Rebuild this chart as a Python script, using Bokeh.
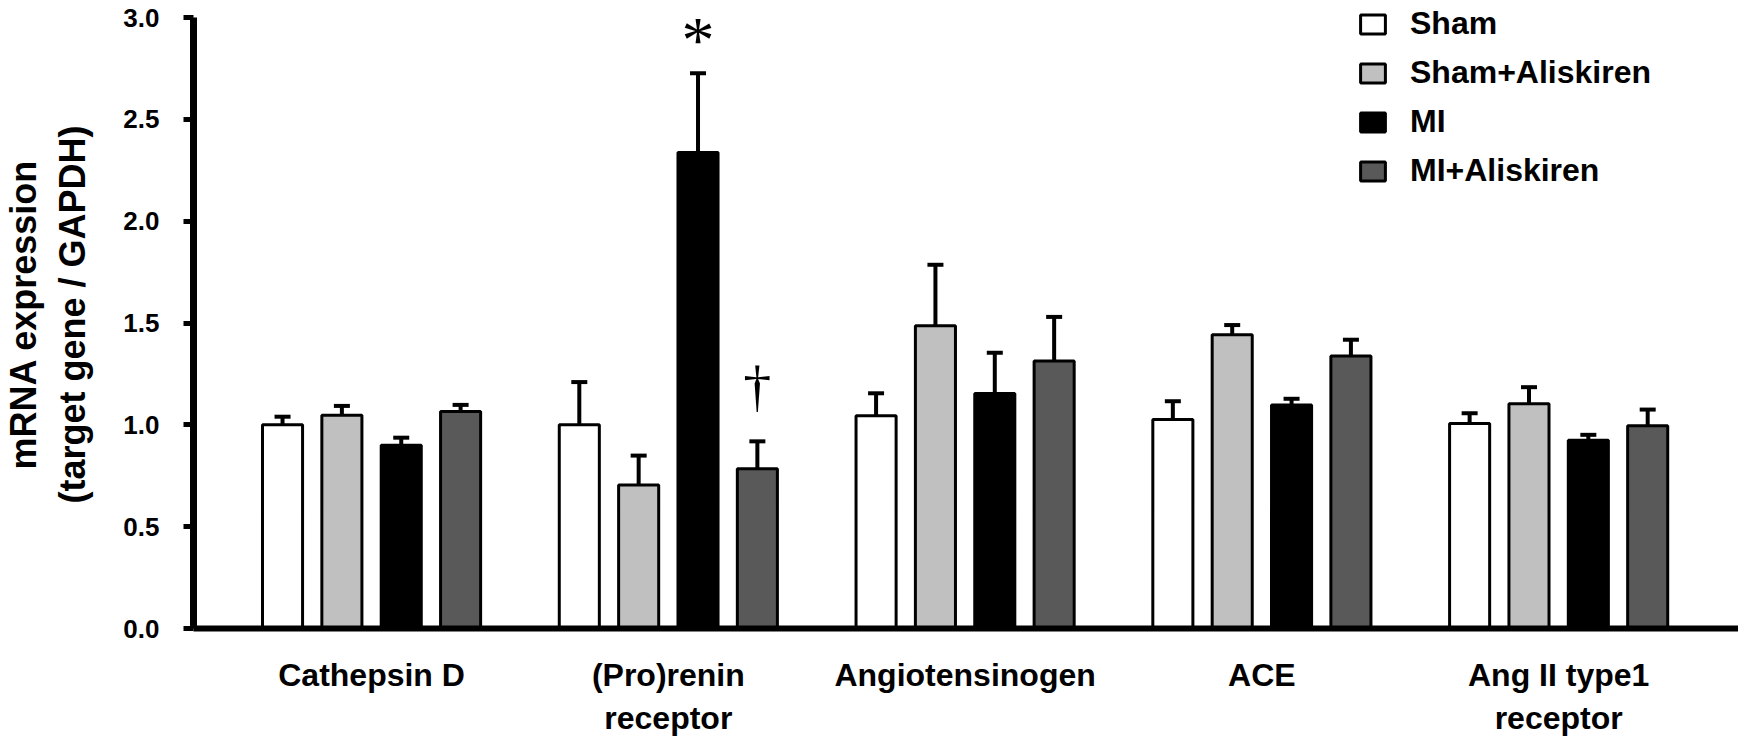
from bokeh.plotting import figure
from bokeh.models import (ColumnDataSource, Whisker, TeeHead, Legend, LegendItem,
                          FixedTicker, Range1d, PrintfTickFormatter, Label)
from bokeh.embed import file_html
from bokeh.resources import INLINE

# ---------------- data ----------------
categories = ["Cathepsin D", "(Pro)renin\nreceptor", "Angiotensinogen", "ACE", "Ang II type1\nreceptor"]
series_names = ["Sham", "Sham+Aliskiren", "MI", "MI+Aliskiren"]

sham = [1.00, 1.00, 1.045, 1.026, 1.007]
sham_err = [0.04, 0.21, 0.11, 0.09, 0.05]
sham_ali = [1.047, 0.705, 1.486, 1.442, 1.103]
sham_ali_err = [0.046, 0.144, 0.30, 0.048, 0.082]
mi = [0.90, 2.337, 1.154, 1.098, 0.924]
mi_err = [0.037, 0.39, 0.20, 0.03, 0.027]
mi_ali = [1.065, 0.784, 1.314, 1.338, 0.995]
mi_ali_err = [0.033, 0.135, 0.216, 0.08, 0.08]

y_ticks = [0.0, 0.5, 1.0, 1.5, 2.0, 2.5, 3.0]
y_axis_max = 3.0

# significance marks: symbol, category index, series index, y position
marks_symbol = ["*", "\u2020"]
marks_cat = [1, 1]
marks_series = [2, 3]
marks_y = [2.89, 1.19]

# ---------------- styling ----------------
colors = ["#ffffff", "#c0c0c0", "#000000", "#595959"]
offsets = [-0.3, -0.1, 0.1, 0.3]
bar_width = 0.135
mark_sizes = ["66px", "56px"]
FONT = "Liberation Sans"

p = figure(width=1738, height=740,
           x_range=Range1d(-0.6, 4.606), y_range=Range1d(0, 3.0837),
           output_backend="svg", toolbar_location=None,
           min_border_left=192, min_border_right=0,
           min_border_top=0, min_border_bottom=112)
p.xgrid.visible = False
p.ygrid.visible = False
p.outline_line_color = None
p.background_fill_color = "white"

all_vals = [sham, sham_ali, mi, mi_ali]
all_errs = [sham_err, sham_ali_err, mi_err, mi_ali_err]
renderers = []
for k in range(4):
    xs = [i + offsets[k] for i in range(len(categories))]
    src = ColumnDataSource(dict(x=xs, top=all_vals[k],
                                upper=[v + e for v, e in zip(all_vals[k], all_errs[k])]))
    r = p.vbar(x="x", top="top", bottom=0, width=bar_width, source=src,
               fill_color=colors[k], line_color="black", line_width=3)
    renderers.append(r)
    w = Whisker(source=src, base="x", lower="top", upper="upper",
                line_width=4, line_color="black",
                upper_head=TeeHead(size=16, line_width=4, line_color="black"),
                lower_head=None, level="glyph")
    p.add_layout(w)

for i in range(len(marks_symbol)):
    p.add_layout(Label(x=marks_cat[i] + offsets[marks_series[i]], y=marks_y[i],
                       x_units="data", y_units="data", text=marks_symbol[i],
                       text_font="Liberation Serif", text_font_size=mark_sizes[i],
                       text_align="center", text_baseline="middle", text_color="black"))

# ---------------- axes ----------------
ya = p.yaxis[0]
ya.ticker = FixedTicker(ticks=y_ticks)
ya.bounds = (0, y_axis_max)
ya.formatter = PrintfTickFormatter(format="%.1f")
ya.axis_line_width = 7
ya.major_tick_line_width = 5
ya.major_tick_out = 10
ya.major_tick_in = 0
ya.minor_tick_out = 0
ya.minor_tick_in = 0
ya.major_label_text_font = FONT
ya.major_label_text_font_style = "bold"
ya.major_label_text_font_size = "26px"
ya.major_label_text_color = "black"
ya.major_label_standoff = 24
ya.axis_label = "mRNA expression\n(target gene / GAPDH)"
ya.axis_label_text_font = FONT
ya.axis_label_text_font_style = "bold"
ya.axis_label_text_font_size = "36px"
ya.axis_label_text_color = "black"
ya.axis_label_standoff = 27
ya.axis_label_text_line_height = 1.2

xa = p.xaxis[0]
xa.ticker = FixedTicker(ticks=list(range(len(categories))))
xa.major_label_overrides = {i: c for i, c in enumerate(categories)}
xa.axis_line_width = 6
xa.major_tick_out = 0
xa.major_tick_in = 0
xa.minor_tick_out = 0
xa.minor_tick_in = 0
xa.major_label_text_font = FONT
xa.major_label_text_font_style = "bold"
xa.major_label_text_font_size = "32px"
xa.major_label_text_color = "black"
xa.major_label_standoff = 28
xa.major_label_text_line_height = 1.2

# ---------------- legend ----------------
legend = Legend(items=[LegendItem(label=series_names[k], renderers=[renderers[k]]) for k in range(4)],
                location=(1164, 439), orientation="vertical",
                glyph_width=31, glyph_height=24, label_height=24,
                label_standoff=22, spacing=12, padding=0, margin=0,
                border_line_color=None, background_fill_alpha=0,
                label_text_font=FONT, label_text_font_style="bold",
                label_text_font_size="32px", label_text_color="black")
p.add_layout(legend)

open("out.html", "w").write(file_html(p, INLINE))
